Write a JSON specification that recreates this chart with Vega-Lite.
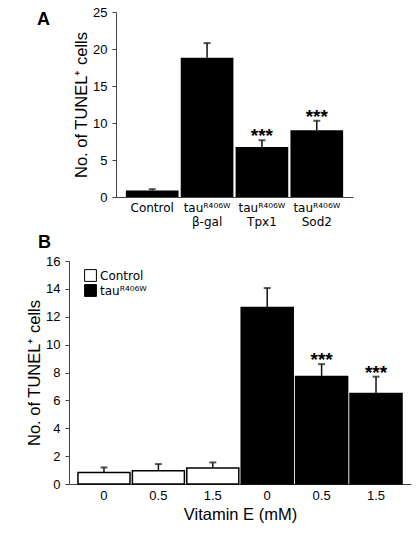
{
  "$schema": "https://vega.github.io/schema/vega-lite/v6.json",
  "padding": {"left": 5, "top": 6, "right": 5, "bottom": 5},
  "background": "white",
  "spacing": 7,
  "resolve": {"scale": {"fill": "independent"}, "legend": {"fill": "independent"}},
  "config": {
    "view": {"stroke": null},
    "font": "Liberation Sans",
    "axis": {
      "domainColor": "#444",
      "tickColor": "#444",
      "domainWidth": 1,
      "tickWidth": 1,
      "tickSize": 4,
      "labelColor": "#000",
      "titleColor": "#000",
      "labelFont": "Liberation Sans",
      "titleFont": "Liberation Sans",
      "labelFontSize": 13,
      "titleFontSize": 16.5,
      "titleFontWeight": "normal",
      "labelPadding": 5,
      "grid": false
    },
    "axisY": {"titlePadding": 3},
    "axisX": {"titlePadding": 4}
  },
  "vconcat": [
    {
      "spacing": 31,
      "hconcat": [
        {
          "width": 1,
          "height": 1,
          "data": {"values": [{"s": ""}]},
          "mark": {"type": "text"},
          "encoding": {"text": {"field": "s"}}
        },
        {
          "width": 237,
          "height": 185,
          "title": {"text": "A", "anchor": "start", "frame": "group", "orient": "top", "offset": 0, "dx": -79, "dy": 37, "baseline": "alphabetic", "fontSize": 18, "fontWeight": "bold", "font": "Liberation Sans", "color": "#000"},
          "data": {"values": [
            {"cond": "Control", "value": 0.87, "err": 1.06, "sig": ""},
            {"cond": "tauᴿ⁴⁰⁶ᵂ|β-gal", "value": 18.83, "err": 20.8, "sig": ""},
            {"cond": "tauᴿ⁴⁰⁶ᵂ|Tpx1", "value": 6.76, "err": 7.67, "sig": "***"},
            {"cond": "tauᴿ⁴⁰⁶ᵂ|Sod2", "value": 9.02, "err": 10.3, "sig": "***"}
          ]},
          "encoding": {
            "x": {"field": "cond", "type": "nominal", "sort": null,
                  "scale": {"paddingInner": 0.04, "paddingOuter": 0.18},
                  "axis": {"title": null, "labelAngle": 0, "ticks": false, "labelExpr": "split(datum.label, '|')", "labelLineHeight": 14, "labelFont": "DejaVu Sans", "labelFontSize": 12}},
            "y": {"field": "value", "type": "quantitative", "title": "No. of TUNEL⁺ cells",
                  "scale": {"domain": [0, 25], "nice": false},
                  "axis": {"values": [0, 5, 10, 15, 20, 25], "labelOverlap": false}}
          },
          "layer": [
            {"mark": {"type": "bar", "color": "#000"}},
            {"mark": {"type": "rule", "color": "#111", "strokeWidth": 1.5},
             "encoding": {"y2": {"field": "err"}}},
            {"mark": {"type": "tick", "color": "#111", "size": 7, "thickness": 2},
             "encoding": {"y": {"field": "err", "type": "quantitative", "title": "No. of TUNEL⁺ cells", "axis": {"values": [0, 5, 10, 15, 20, 25], "labelOverlap": false}}}},
            {"mark": {"type": "text", "fontSize": 19, "fontWeight": "bold", "baseline": "alphabetic", "dy": 2, "color": "#000"},
             "encoding": {"y": {"field": "err", "type": "quantitative", "title": "No. of TUNEL⁺ cells", "axis": {"values": [0, 5, 10, 15, 20, 25], "labelOverlap": false}}, "text": {"field": "sig"}}}
          ]
        }
      ]
    },
    {
      "spacing": 20,
      "resolve": {"scale": {"fill": "independent"}, "legend": {"fill": "independent"}},
      "hconcat": [
        {
          "width": 1,
          "height": 1,
          "data": {"values": [{"s": ""}]},
          "mark": {"type": "text"},
          "encoding": {"text": {"field": "s"}}
        },
        {
          "width": 342,
          "height": 223,
          "title": {"text": "B", "anchor": "start", "frame": "group", "orient": "top", "offset": 0, "dx": -31, "dy": 11, "baseline": "alphabetic", "fontSize": 18, "fontWeight": "bold", "font": "Liberation Sans", "color": "#000"},
          "data": {"values": [
            {"bar": "Control 0", "group": "Control", "value": 0.83, "err": 1.19, "sig": ""},
            {"bar": "Control 0.5", "group": "Control", "value": 0.95, "err": 1.43, "sig": ""},
            {"bar": "Control 1.5", "group": "Control", "value": 1.15, "err": 1.55, "sig": ""},
            {"bar": "tau 0", "group": "tauᴿ⁴⁰⁶ᵂ", "value": 12.67, "err": 14.06, "sig": ""},
            {"bar": "tau 0.5", "group": "tauᴿ⁴⁰⁶ᵂ", "value": 7.72, "err": 8.6, "sig": "***"},
            {"bar": "tau 1.5", "group": "tauᴿ⁴⁰⁶ᵂ", "value": 6.5, "err": 7.7, "sig": "***"}
          ]},
          "encoding": {
            "x": {"field": "bar", "type": "nominal", "sort": null,
                  "scale": {"paddingInner": 0.044, "paddingOuter": 0.165},
                  "axis": {"title": "Vitamin E (mM)", "labelAngle": 0, "ticks": false, "labelExpr": "split(datum.label, ' ')[1]"}},
            "y": {"field": "value", "type": "quantitative", "title": "No. of TUNEL⁺ cells",
                  "scale": {"domain": [0, 16], "nice": false},
                  "axis": {"values": [0, 2, 4, 6, 8, 10, 12, 14, 16], "labelOverlap": false}}
          },
          "layer": [
            {"mark": {"type": "bar", "stroke": "#000", "strokeWidth": 1.5},
             "encoding": {
               "fill": {"field": "group", "type": "nominal",
                        "scale": {"domain": ["Control", "tauᴿ⁴⁰⁶ᵂ"], "range": ["#ffffff", "#000000"]},
                        "legend": {"title": null, "orient": "none", "legendX": 15, "legendY": 8, "symbolType": "square", "symbolSize": 140, "symbolStrokeColor": "#000", "symbolStrokeWidth": 1, "labelFontSize": 12, "labelFont": "DejaVu Sans", "labelColor": "#000", "labelOffset": 3, "rowPadding": -7, "padding": 0}}
             }},
            {"mark": {"type": "rule", "color": "#111", "strokeWidth": 1.5},
             "encoding": {"y2": {"field": "err"}}},
            {"mark": {"type": "tick", "color": "#111", "size": 7, "thickness": 2},
             "encoding": {"y": {"field": "err", "type": "quantitative", "title": "No. of TUNEL⁺ cells", "axis": {"values": [0, 2, 4, 6, 8, 10, 12, 14, 16], "labelOverlap": false}}}},
            {"mark": {"type": "text", "fontSize": 19, "fontWeight": "bold", "baseline": "alphabetic", "dy": 2, "color": "#000"},
             "encoding": {"y": {"field": "err", "type": "quantitative", "title": "No. of TUNEL⁺ cells", "axis": {"values": [0, 2, 4, 6, 8, 10, 12, 14, 16], "labelOverlap": false}}, "text": {"field": "sig"}}}
          ]
        }
      ]
    }
  ]
}
